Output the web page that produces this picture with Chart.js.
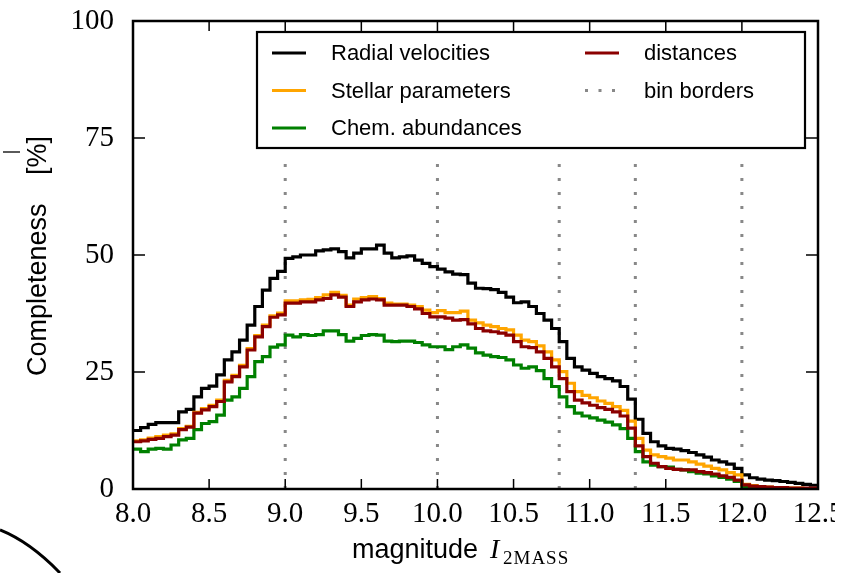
<!DOCTYPE html>
<html>
<head>
<meta charset="utf-8">
<script src="https://cdn.jsdelivr.net/npm/chart.js@4.4.1/dist/chart.umd.min.js"></script>
<style>
  html, body { margin: 0; padding: 0; background: #fff; }
</style>
</head>
<body>
<canvas id="completenessChart" width="854" height="573"></canvas>
<script>
// histogram binning (I_2MASS), 0.05 mag bins
const binLo = 8.0;
const binHi = 12.5;
const binWidth = 0.05;
const binBorders = [9.0, 10.0, 10.8, 11.3, 12.0];
const borderTop = 70.5;
const xTicks = [8.0, 8.5, 9.0, 9.5, 10.0, 10.5, 11.0, 11.5, 12.0, 12.5];
const yTicks = [0, 25, 50, 75, 100];

// completeness per bin [%]
const radialVelocities = [
  12.5, 13.1, 13.8, 14.2, 14.2, 14.2, 16.5, 17.0, 19.7, 21.5,
  22.0, 24.4, 27.6, 29.3, 31.8, 35.0, 39.0, 42.5, 45.0, 46.5,
  49.3, 49.6, 50.0, 50.0, 50.9, 51.1, 51.3, 50.7, 49.4, 50.4,
  51.3, 51.3, 52.1, 50.4, 49.4, 49.6, 49.8, 48.9, 48.2, 47.5,
  47.0, 46.4, 45.9, 45.8, 44.0, 42.9, 42.8, 42.6, 42.0, 41.0,
  39.8, 40.0, 39.0, 37.5, 36.1, 34.3, 31.5, 27.9, 26.1, 25.4,
  24.7, 24.0, 23.6, 23.1, 21.9, 19.2, 14.9, 11.9, 10.1, 9.2,
  8.7, 8.5, 8.2, 7.8, 7.3, 6.8, 6.2, 5.8, 5.3, 4.4,
  3.0, 2.4, 2.1, 1.9, 1.8, 1.6, 1.4, 1.2, 1.0, 0.8
];
const stellarParameters = [
  10.3, 10.5, 10.9, 11.2, 11.5, 11.8, 12.9, 13.4, 16.4, 17.2,
  17.9, 19.0, 23.2, 24.3, 26.4, 30.0, 32.8, 35.0, 37.0, 37.6,
  40.2, 40.2, 40.4, 40.5, 40.9, 41.5, 42.0, 41.4, 39.3, 40.6,
  40.9, 41.1, 40.7, 39.7, 39.5, 39.5, 39.3, 39.0, 38.2, 37.7,
  38.1, 37.7, 37.7, 38.0, 36.1, 35.5, 35.0, 34.7, 34.3, 34.0,
  32.9, 31.8, 31.5, 30.6, 29.3, 27.6, 25.1, 22.6, 20.8, 20.0,
  19.5, 18.8, 18.3, 17.6, 16.8, 14.5, 10.8, 8.3, 7.3, 6.9,
  6.6, 6.2, 6.2, 5.8, 5.3, 4.9, 4.4, 4.1, 3.5, 3.0,
  1.0, 0.7, 0.5, 0.4, 0.3, 0.3, 0.2, 0.2, 0.1, 0.1
];
const chemAbundances = [
  8.5, 8.0, 8.5, 8.7, 8.5, 9.4, 10.5, 10.8, 12.7, 14.0,
  14.4, 15.8, 19.0, 19.7, 21.5, 24.0, 27.2, 28.3, 30.3, 30.8,
  32.9, 32.5, 33.0, 32.8, 33.0, 33.8, 33.8, 33.0, 31.6, 32.2,
  32.8, 33.0, 32.9, 31.6, 31.5, 31.6, 31.6, 31.3, 30.8, 30.4,
  30.4, 29.8, 30.4, 30.8, 30.1, 29.1, 28.6, 28.3, 28.1, 27.6,
  26.5, 25.8, 26.1, 25.3, 23.6, 21.9, 19.7, 17.6, 16.2, 15.6,
  15.2, 14.7, 14.3, 13.7, 12.9, 10.8, 8.0, 5.8, 5.1, 4.8,
  4.7, 4.2, 4.1, 3.7, 3.4, 3.2, 2.8, 2.5, 2.1, 1.6,
  0.4, 0.2, 0.1, 0.1, 0.0, 0.0, 0.0, 0.0, 0.0, 0.0
];
const distances = [
  10.1, 10.3, 10.6, 10.8, 11.2, 11.5, 12.7, 13.2, 16.2, 16.9,
  17.6, 18.7, 22.9, 24.0, 26.1, 29.7, 32.5, 34.7, 36.7, 37.2,
  39.7, 39.7, 40.0, 40.0, 40.4, 40.7, 41.5, 41.0, 39.0, 40.0,
  40.4, 40.6, 40.4, 39.3, 39.3, 39.3, 39.0, 38.5, 37.5, 36.8,
  36.8, 36.5, 36.1, 36.2, 35.3, 34.3, 33.8, 33.6, 33.3, 32.9,
  31.5, 30.4, 30.2, 29.3, 27.9, 26.1, 23.6, 20.8, 19.0, 18.4,
  17.9, 17.4, 17.0, 16.5, 15.6, 13.0, 9.2, 6.9, 5.5, 4.8,
  4.4, 4.2, 4.1, 4.1, 3.7, 3.5, 3.2, 2.8, 2.5, 1.9,
  0.9, 0.6, 0.5, 0.4, 0.3, 0.3, 0.2, 0.2, 0.2, 0.2
];

const seriesNames = ['Radial velocities', 'Stellar parameters', 'Chem. abundances', 'distances', 'bin borders'];
const seriesColors = ['#000000', '#ffa500', '#008000', '#8b0000', '#888888'];

// left bin edges plus closing point at the upper edge -> step outline
function stepPoints(values) {
  const pts = values.map((v, i) => ({ x: binLo + i * binWidth, y: v }));
  pts.push({ x: binHi, y: values[values.length - 1] });
  return pts;
}

function histSet(label, values, color, order) {
  return {
    label: label,
    data: stepPoints(values),
    borderColor: color,
    borderWidth: 3.2,
    stepped: true,
    pointRadius: 0,
    fill: false,
    order: order
  };
}

const borderPoints = [];
for (const b of binBorders) {
  borderPoints.push({ x: b, y: 0 }, { x: b, y: borderTop }, { x: b, y: null });
}

// frame + inward ticks on all four sides
const frameTicks = {
  id: 'frameTicks',
  afterDatasetsDraw(chart) {
    const { ctx, chartArea: a, scales: { x, y } } = chart;
    ctx.save();
    ctx.strokeStyle = '#000';
    ctx.lineWidth = 1.5;
    ctx.beginPath();
    for (const v of xTicks) {
      const px = x.getPixelForValue(v);
      ctx.moveTo(px, a.bottom); ctx.lineTo(px, a.bottom - 10);
      ctx.moveTo(px, a.top); ctx.lineTo(px, a.top + 10);
    }
    for (const v of yTicks) {
      const py = y.getPixelForValue(v);
      ctx.moveTo(a.left, py); ctx.lineTo(a.left + 12, py);
      ctx.moveTo(a.right, py); ctx.lineTo(a.right - 12, py);
    }
    ctx.stroke();
    ctx.lineWidth = 2.5;
    ctx.strokeRect(a.left, a.top, a.right - a.left, a.bottom - a.top);
    ctx.restore();
  }
};

// boxed legend, two columns
const boxLegend = {
  id: 'boxLegend',
  afterDraw(chart) {
    const ctx = chart.ctx;
    const a = chart.chartArea;
    const bx = a.left + 124, by = a.top + 11, bw = 548, bh = 116;
    ctx.save();
    ctx.fillStyle = '#fff';
    ctx.fillRect(bx, by, bw, bh);
    ctx.strokeStyle = '#000';
    ctx.lineWidth = 2.2;
    ctx.strokeRect(bx, by, bw, bh);
    const cells = [
      [0, 0, 0], [1, 0, 1], [2, 0, 2],
      [3, 1, 0], [4, 1, 1]
    ];
    ctx.font = '22px "Liberation Sans", Arial, sans-serif';
    ctx.textBaseline = 'middle';
    for (const [k, col, row] of cells) {
      const lx = col === 0 ? bx + 15 : bx + 328;
      const tx = col === 0 ? bx + 74 : bx + 387;
      const ly = by + 21 + row * 37.5;
      ctx.beginPath();
      ctx.strokeStyle = seriesColors[k];
      ctx.lineWidth = 3.2;
      if (k === 4) ctx.setLineDash([3, 10.5]); else ctx.setLineDash([]);
      ctx.moveTo(lx, ly);
      ctx.lineTo(lx + 34, ly);
      ctx.stroke();
      ctx.fillStyle = '#000';
      ctx.fillText(seriesNames[k], tx, ly + 1);
    }
    ctx.restore();
  }
};

// axis titles with mixed fonts
const axisTitles = {
  id: 'axisTitles',
  afterDraw(chart) {
    const ctx = chart.ctx;
    ctx.save();
    ctx.fillStyle = '#000';
    ctx.textBaseline = 'alphabetic';
    ctx.textAlign = 'left';
    ctx.font = '27px "Liberation Sans", Arial, sans-serif';
    ctx.fillText('magnitude', 352, 558);
    ctx.font = 'italic 28px "Liberation Serif", serif';
    ctx.fillText('I', 490, 558);
    ctx.font = '19px "Liberation Serif", serif';
    ctx.letterSpacing = '1px';
    ctx.fillText('2MASS', 503, 564);
    ctx.letterSpacing = '0px';

    ctx.translate(46, 376);
    ctx.rotate(-Math.PI / 2);
    ctx.font = '27px "Liberation Sans", Arial, sans-serif';
    ctx.fillText('Completeness', 0, 0);
    ctx.fillText('[%]', 201, 0);
    ctx.restore();

    // stray strokes at the page edge
    ctx.save();
    ctx.strokeStyle = '#000';
    ctx.lineWidth = 1.3;
    ctx.beginPath();
    ctx.moveTo(3, 152); ctx.lineTo(20, 152);
    ctx.stroke();
    ctx.lineWidth = 3;
    ctx.beginPath();
    ctx.moveTo(0, 530);
    ctx.quadraticCurveTo(30, 542, 60, 573);
    ctx.stroke();
    ctx.fillStyle = '#fff';
    ctx.fillRect(835, 0, 19, 573);
    ctx.restore();
  }
};

const serifTicks = { family: '"Liberation Serif", "Times New Roman", serif', size: 29 };

const myChart = new Chart(document.getElementById('completenessChart'), {
  type: 'line',
  data: {
    datasets: [
      histSet(seriesNames[0], radialVelocities, seriesColors[0], 4),
      histSet(seriesNames[1], stellarParameters, seriesColors[1], 3),
      histSet(seriesNames[2], chemAbundances, seriesColors[2], 2),
      histSet(seriesNames[3], distances, seriesColors[3], 1),
      {
        label: seriesNames[4],
        data: borderPoints,
        borderColor: seriesColors[4],
        borderWidth: 3,
        borderDash: [3, 11],
        pointRadius: 0,
        spanGaps: false,
        order: 5
      }
    ]
  },
  options: {
    responsive: false,
    animation: false,
    layout: { autoPadding: false, padding: { top: 21, right: 36, left: 0, bottom: 0 } },
    plugins: { legend: { display: false }, tooltip: { enabled: false } },
    scales: {
      x: {
        type: 'linear',
        min: binLo,
        max: binHi,
        afterBuildTicks: s => { s.ticks = xTicks.map(v => ({ value: v })); },
        afterFit: s => { s.height = 84; s.paddingLeft = 0; s.paddingRight = 0; },
        grid: { display: false, drawTicks: false },
        border: { display: false },
        ticks: {
          font: serifTicks,
          color: '#000',
          padding: 8,
          maxRotation: 0,
          autoSkip: false,
          callback: v => v.toFixed(1)
        }
      },
      y: {
        min: 0,
        max: 100,
        afterBuildTicks: s => { s.ticks = yTicks.map(v => ({ value: v })); },
        afterFit: s => { s.width = 133; s.paddingTop = 0; s.paddingBottom = 0; },
        grid: { display: false, drawTicks: false },
        border: { display: false },
        ticks: {
          font: serifTicks,
          color: '#000',
          padding: 19,
          callback: v => String(v)
        }
      }
    }
  },
  plugins: [frameTicks, boxLegend, axisTitles]
});
</script>
</body>
</html>
